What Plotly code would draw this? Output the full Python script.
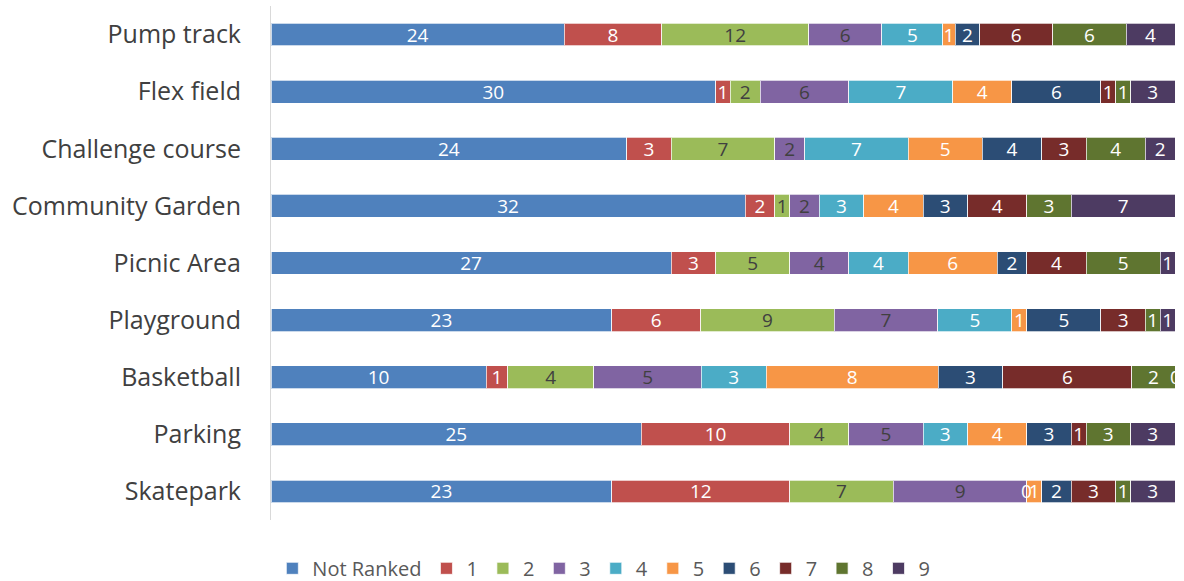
import plotly.graph_objects as go

categories = ["Pump track", "Flex field", "Challenge course", "Community Garden",
              "Picnic Area", "Playground", "Basketball", "Parking", "Skatepark"]
series_names = ["Not Ranked", "1", "2", "3", "4", "5", "6", "7", "8", "9"]

not_ranked = [24, 30, 24, 32, 27, 23, 10, 25, 23]
rank1 = [8, 1, 3, 2, 3, 6, 1, 10, 12]
rank2 = [12, 2, 7, 1, 5, 9, 4, 4, 7]
rank3 = [6, 6, 2, 2, 4, 7, 5, 5, 9]
rank4 = [5, 7, 7, 3, 4, 5, 3, 3, 0]
rank5 = [1, 4, 5, 4, 6, 1, 8, 4, 1]
rank6 = [2, 6, 4, 3, 2, 5, 3, 3, 2]
rank7 = [6, 1, 3, 4, 4, 3, 6, 1, 3]
rank8 = [6, 1, 4, 3, 5, 1, 2, 3, 1]
rank9 = [4, 3, 2, 7, 1, 1, 0, 3, 3]

series_values = [not_ranked, rank1, rank2, rank3, rank4, rank5, rank6, rank7, rank8, rank9]
colors = ["#4F81BD", "#C0504D", "#9BBB59", "#8064A2", "#4BACC6",
          "#F79646", "#2C4D75", "#772C2A", "#5F7530", "#4D3B62"]
text_colors = ["white", "white", "#404040", "#404040", "white",
               "white", "white", "white", "white", "white"]

FONT = "Open Sans, Lato, sans-serif"

fig = go.Figure()
for name, vals, col, tcol in zip(series_names, series_values, colors, text_colors):
    fig.add_trace(go.Bar(
        y=categories, x=vals, name=name, orientation="h",
        marker=dict(color=col, line=dict(color="rgba(255,255,255,0.7)", width=1)),
        text=[str(v) for v in vals], textposition="inside", textangle=0,
        insidetextanchor="middle", constraintext="none",
        textfont=dict(color=tcol, size=19, family=FONT),
        cliponaxis=False,
        hoverinfo="x+y+name",
    ))

# labels for zero-width segments (shown at their stack position, like the original)
totals = [sum(s[i] for s in series_values) for i in range(len(categories))]
for i, cat in enumerate(categories):
    cum = 0
    for k, s in enumerate(series_values):
        if s[i] == 0:
            fig.add_annotation(x=cum / totals[i], y=cat, text="0", showarrow=False,
                               xanchor="center", yanchor="middle",
                               font=dict(color=text_colors[k], size=19, family=FONT))
        cum += s[i]

fig.update_layout(
    barmode="stack", barnorm="fraction", bargap=0.6,
    width=1184, height=581,
    margin=dict(l=271, r=9, t=6, b=61, autoexpand=False),
    paper_bgcolor="white", plot_bgcolor="white",
    font=dict(family=FONT, color="#404040"),
    uniformtext=dict(minsize=19, mode="show"),
    showlegend=True,
    legend=dict(orientation="h", xref="container", x=0.51, xanchor="center",
                yref="paper", y=-0.094, yanchor="middle",
                font=dict(size=20, color="#595959", family=FONT),
                traceorder="normal", itemwidth=30),
)
fig.update_xaxes(visible=False, range=[0, 1], automargin=False)
fig.update_yaxes(autorange="reversed", showline=True, linecolor="#D9D9D9", linewidth=1,
                 ticks="", showgrid=False, ticklabelstandoff=24, automargin=False,
                 tickfont=dict(size=25, color="#404040", family=FONT))

fig.write_html("out.html", config={"displayModeBar": False},
               post_script="document.body.style.margin='0';document.body.style.overflow='hidden';")
